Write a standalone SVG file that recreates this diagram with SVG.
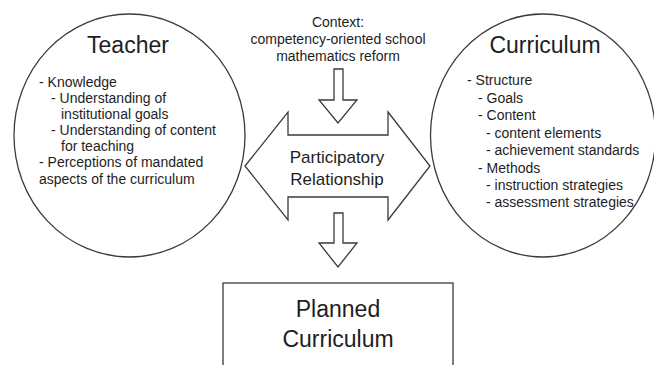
<svg xmlns="http://www.w3.org/2000/svg" width="654" height="365" viewBox="0 0 654 365">
<style>
.shape{fill:#fff;stroke:#3a3a3a;stroke-width:1.3}
text{font-family:"Liberation Sans",Arial,Helvetica,sans-serif;fill:#1e1e1e}
.title{font-size:23px}
.item{font-size:14px}
.ctx{font-size:14px;text-anchor:middle}
.mid{font-size:17px;text-anchor:middle}
.box{font-size:23px;text-anchor:middle}
</style>
<rect width="654" height="365" fill="#fff"/>
<g id="teacher">
<ellipse class="shape" cx="129.5" cy="135.5" rx="115.5" ry="121.5"/>
<text class="title" x="128" y="53" text-anchor="middle">Teacher</text>
<text class="item" x="39" y="87">- Knowledge</text>
<text class="item" x="51" y="103">- Understanding of</text>
<text class="item" x="61" y="119">institutional goals</text>
<text class="item" x="51" y="135">- Understanding of content</text>
<text class="item" x="61" y="151">for teaching</text>
<text class="item" x="39" y="167">- Perceptions of mandated</text>
<text class="item" x="39" y="184">aspects of the curriculum</text>
</g>
<g id="curriculum">
<ellipse class="shape" cx="543" cy="135.5" rx="112.5" ry="121.5"/>
<text class="title" x="545" y="53" text-anchor="middle">Curriculum</text>
<text class="item" x="467" y="85">- Structure</text>
<text class="item" x="478" y="103">- Goals</text>
<text class="item" x="478" y="120">- Content</text>
<text class="item" x="486" y="138">- content elements</text>
<text class="item" x="486" y="155">- achievement standards</text>
<text class="item" x="478" y="173">- Methods</text>
<text class="item" x="486" y="190">- instruction strategies</text>
<text class="item" x="486" y="207">- assessment strategies</text>
</g>
<g id="context">
<text class="ctx" x="338" y="27">Context:</text>
<text class="ctx" x="338" y="44">competency-oriented school</text>
<text class="ctx" x="338" y="61">mathematics reform</text>
</g>
<g id="relationship">
<polygon class="shape" points="245,166 288,112 288,135 388,135 388,112 430,166 388,220 388,197 288,197 288,220"/>
<text class="mid" x="337" y="163">Participatory</text>
<text class="mid" x="337" y="185">Relationship</text>
</g>
<g id="planned">
<rect class="shape" x="223" y="283" width="230" height="100"/>
<text class="box" x="338" y="317">Planned</text>
<text class="box" x="338" y="347">Curriculum</text>
</g>
<g id="connectors">
<polygon class="shape" points="334,69 343,69 343,100 357,100 338,123 319,100 334,100"/>
<polygon class="shape" points="334,213 343,213 343,243 357,243 338,267 319,243 334,243"/>
</g>
</svg>
